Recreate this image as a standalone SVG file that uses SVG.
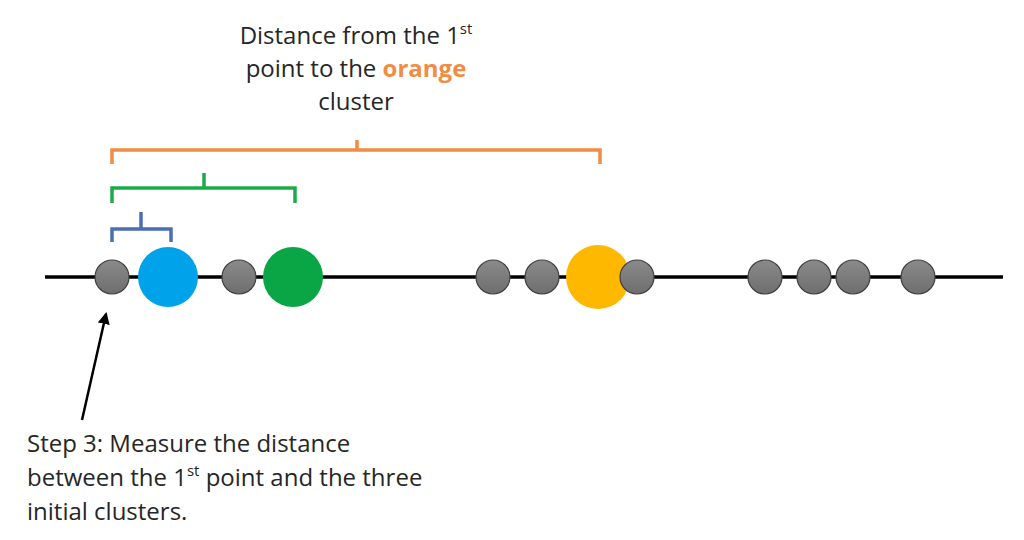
<svg xmlns="http://www.w3.org/2000/svg" width="1024" height="540" viewBox="0 0 1024 540">
<defs>
<linearGradient id="gg" x1="0" y1="0" x2="0" y2="1">
<stop offset="0" stop-color="#8a8a8a"/><stop offset="1" stop-color="#6e6e6e"/>
</linearGradient>
<marker id="ah" markerWidth="12" markerHeight="12" refX="10" refY="6" orient="auto" markerUnits="userSpaceOnUse">
<path d="M0,0 L12,6 L0,12 z" fill="#000"/>
</marker>
</defs>
<style>
.t{font-family:"Open Sans","Liberation Sans",sans-serif;font-size:24px;fill:#262626}
.g{fill:url(#gg);stroke:#404040;stroke-width:1.2}
.br{fill:none;stroke-width:3.5}
</style>
<rect width="1024" height="540" fill="#fff"/>
<g id="connectors">
<line x1="45" y1="277" x2="1003" y2="277" stroke="#000" stroke-width="3.5"/>
<line x1="82" y1="420" x2="106" y2="314" stroke="#000" stroke-width="2.5" marker-end="url(#ah)"/>
</g>
<g id="brackets">
<path class="br" stroke="#F08C44" d="M112,164 V150 H600 V164 M357,150 V140"/>
<path class="br" stroke="#1DAA4A" d="M112,203 V188 H295 V203 M204,188 V173"/>
<path class="br" stroke="#4A6FB5" d="M112,242 V229 H171 V242 M141,229 V212"/>
</g>
<g id="p1"><circle class="g" cx="112" cy="277" r="17"/></g>
<g id="blue"><circle cx="168" cy="277" r="30" fill="#00A3EA"/></g>
<g id="p2"><circle class="g" cx="239" cy="277" r="17"/></g>
<g id="green"><circle cx="293" cy="277" r="30" fill="#0AA545"/></g>
<g id="p3"><circle class="g" cx="493" cy="277" r="17"/></g>
<g id="p4"><circle class="g" cx="542" cy="277" r="17"/></g>
<g id="orange"><circle cx="598" cy="277" r="32" fill="#FFB800"/></g>
<g id="p5"><circle class="g" cx="637" cy="277" r="17"/></g>
<g id="p6"><circle class="g" cx="765" cy="277" r="17"/></g>
<g id="p7"><circle class="g" cx="814" cy="277" r="17"/></g>
<g id="p8"><circle class="g" cx="853" cy="277" r="17"/></g>
<g id="p9"><circle class="g" cx="918" cy="277" r="17"/></g>
<g id="title">
<text class="t" x="356" y="44" text-anchor="middle">Distance from the 1<tspan font-size="15" dy="-10">st</tspan></text>
<text class="t" x="356" y="77" text-anchor="middle">point to the <tspan fill="#F08C44" font-weight="bold">orange</tspan></text>
<text class="t" x="356" y="110" text-anchor="middle">cluster</text>
</g>
<g id="step">
<text class="t" x="27" y="452">Step 3: Measure the distance</text>
<text class="t" x="27" y="486">between the 1<tspan font-size="15" dy="-10">st</tspan><tspan dy="10"> point and the three</tspan></text>
<text class="t" x="27" y="520">initial clusters.</text>
</g>
</svg>
